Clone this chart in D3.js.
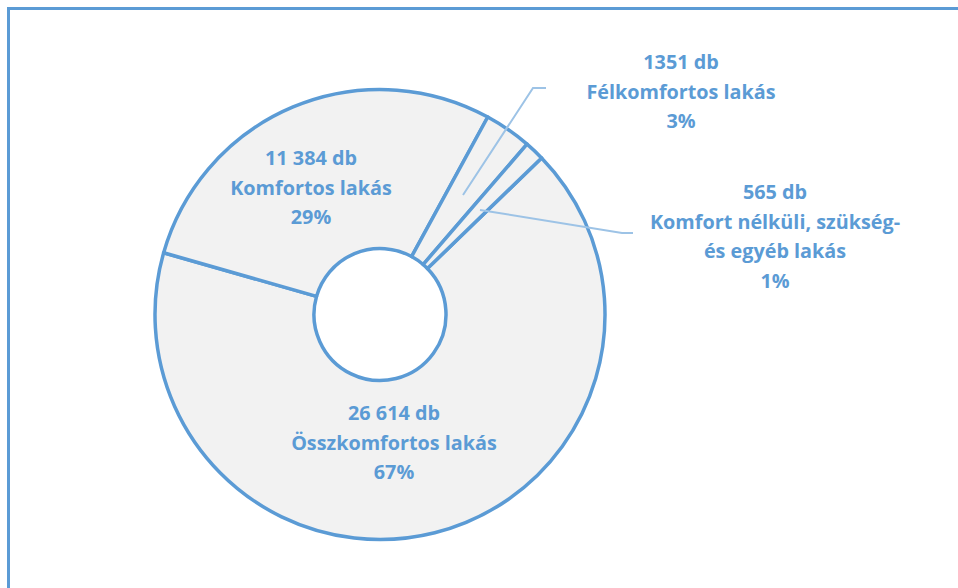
<!DOCTYPE html>
<html lang="hu">
<head>
<meta charset="utf-8">
<title>Lakások komfortfokozat szerint</title>
<script src="https://d3js.org/d3.v7.min.js"></script>
<style>
  html, body { margin: 0; padding: 0; background: #fff; }
  svg { display: block; }
</style>
</head>
<body>
<script>
// adatok
var categories = ["Összkomfortos lakás", "Komfortos lakás", "Félkomfortos lakás", "Komfort nélküli, szükség-|és egyéb lakás"];
var values = [26614, 11384, 1351, 565];

var width = 958, height = 588;
var cx = 380, cy = 314.5;
var outerR = 225, innerR = 66;
var blue = "#5b9bd5";

var svg = d3.select("body").append("svg")
  .attr("width", width)
  .attr("height", height);

// keret (csak bal és felső él látszik)
svg.append("path")
  .attr("d", "M8.5," + height + " V8.5 H" + width)
  .attr("fill", "none")
  .attr("stroke", blue)
  .attr("stroke-width", 3);

var total = d3.sum(values);
var start = 45.9 * Math.PI / 180;
var pie = d3.pie().sort(null).startAngle(start).endAngle(start + 2 * Math.PI);
var arcs = pie(values);
var arc = d3.arc().innerRadius(innerR).outerRadius(outerR);

var g = svg.append("g").attr("transform", "translate(" + cx + "," + cy + ")");

g.selectAll("path.slice")
  .data(arcs)
  .enter()
  .append("path")
  .attr("class", "slice")
  .attr("d", arc)
  .attr("fill", "#f2f2f2")
  .attr("stroke", blue)
  .attr("stroke-width", 3.5)
  .attr("stroke-linejoin", "round");

// vezetővonalak a kis szeletekhez
var leaders = [
  null, null,
  [[463, 195], [533, 88], [546, 88]],
  [[480, 210], [622, 233], [633, 233]]
];
svg.selectAll("path.leader")
  .data(leaders.filter(function(d){ return d; }))
  .enter()
  .append("path")
  .attr("class", "leader")
  .attr("d", d3.line())
  .attr("fill", "none")
  .attr("stroke", "#9dc3e6")
  .attr("stroke-width", 2);

// címkék helye (középpont, első sor alapvonala)
var labelPos = [[394, 420], [311, 165], [681, 69], [775, 199]];

function fmt(v){
  var s = String(v);
  if (v >= 10000) s = s.slice(0, s.length - 3) + " " + s.slice(-3);
  return s + " db";
}

arcs.forEach(function(a, i){
  var lines = [fmt(values[i])]
    .concat(categories[i].split("|"))
    .concat([Math.round(values[i] / total * 100) + "%"]);
  var t = svg.append("text")
    .attr("x", labelPos[i][0])
    .attr("y", labelPos[i][1])
    .attr("text-anchor", "middle")
    .attr("fill", blue)
    .attr("font-family", "'Open Sans', sans-serif")
    .attr("font-weight", "bold")
    .attr("font-size", 19.8);
  lines.forEach(function(l, j){
    t.append("tspan")
      .attr("x", labelPos[i][0])
      .attr("dy", j === 0 ? 0 : 29.5)
      .text(l);
  });
});
</script>
</body>
</html>
